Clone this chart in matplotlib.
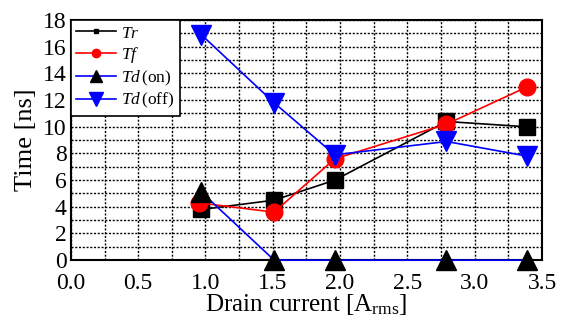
import matplotlib
matplotlib.use("Agg")
import matplotlib.pyplot as plt
from matplotlib.lines import Line2D
from matplotlib.ticker import MultipleLocator

plt.rcParams['font.family'] = ['Liberation Serif', 'DejaVu Serif']
plt.rcParams['mathtext.fontset'] = 'custom'
plt.rcParams['mathtext.rm'] = 'Liberation Serif'
plt.rcParams['mathtext.it'] = 'Liberation Serif:italic'

# Data
current_tr = [0.97, 1.51, 1.96, 2.79, 3.39]
tr = [3.8, 4.5, 6.0, 10.4, 10.0]
current_tf = [0.95, 1.51, 1.96, 2.79, 3.39]
tf = [4.3, 3.6, 7.6, 10.2, 13.0]
current_tdon = [0.97, 1.51, 1.96, 2.79, 3.39]
td_on = [5.1, 0.0, 0.0, 0.0, 0.0]
current_tdoff = [0.97, 1.51, 1.96, 2.79, 3.39]
td_off = [16.9, 11.8, 7.9, 8.9, 7.8]

labels = ['$Tr$', '$Tf$', '$Td\\,$(on)', '$Td\\,$(off)']
x_ticks = [0.0, 0.5, 1.0, 1.5, 2.0, 2.5, 3.0, 3.5]
y_ticks = list(range(0, 19, 2))

fig = plt.figure(figsize=(5.67, 3.2), dpi=100)
ax = fig.add_axes([0.125, 0.187, 0.831, 0.75])

ax.plot(current_tr, tr, color='black', lw=1.2, marker='s', ms=11,
        mfc='black', mec='black', zorder=3, clip_on=False)
ax.plot(current_tf, tf, color='red', lw=1.2, marker='o', ms=12,
        mfc='red', mec='red', zorder=4, clip_on=False)
ax.plot(current_tdon, td_on, color='blue', lw=1.2, marker='^', ms=14,
        mfc='black', mec='black', zorder=5, clip_on=False)
ax.plot(current_tdoff, td_off, color='blue', lw=1.2, marker='v', ms=14,
        mfc='blue', mec='blue', zorder=6, clip_on=False)

ax.set_xlim(0, 3.5)
ax.set_ylim(0, 18)
ax.set_xticks(x_ticks)
ax.set_xticklabels([f'{v:.1f}' for v in x_ticks])
ax.set_yticks(y_ticks)
ax.xaxis.set_minor_locator(MultipleLocator(0.25))
ax.yaxis.set_minor_locator(MultipleLocator(1))
ax.grid(True, which='both', color='black', linestyle=(0, (1.5, 1.2)), lw=1.0)
ax.set_axisbelow(True)
ax.tick_params(axis='both', which='both', length=0, labelsize=17)
ax.tick_params(axis='x', pad=9)
ax.tick_params(axis='y', pad=3)
for s in ax.spines.values():
    s.set_linewidth(1.5)
    s.set_zorder(2)

ax.set_xlabel('Drain current [A$_{\\mathregular{rms}}$]', fontsize=18, labelpad=-1)
ax.set_ylabel('Time [ns]', fontsize=19, labelpad=4)

handles = [
    Line2D([], [], color='black', lw=1.2, marker='s', ms=3.5, mfc='black', mec='black'),
    Line2D([], [], color='red', lw=1.2, marker='o', ms=6, mfc='red', mec='red'),
    Line2D([], [], color='blue', lw=1.2, marker='^', ms=8, mfc='black', mec='black'),
    Line2D([], [], color='blue', lw=1.2, marker='v', ms=10, mfc='blue', mec='blue'),
]
leg = ax.legend(handles, labels, loc='upper left', fontsize=12.5, frameon=True,
                fancybox=False, edgecolor='black', framealpha=1,
                borderaxespad=0.0, handlelength=2.3, handletextpad=0.3,
                labelspacing=0.2, borderpad=0.3)
leg.get_frame().set_linewidth(1.2)
leg.set_zorder(10)

fig.savefig('out.png', dpi=100)
